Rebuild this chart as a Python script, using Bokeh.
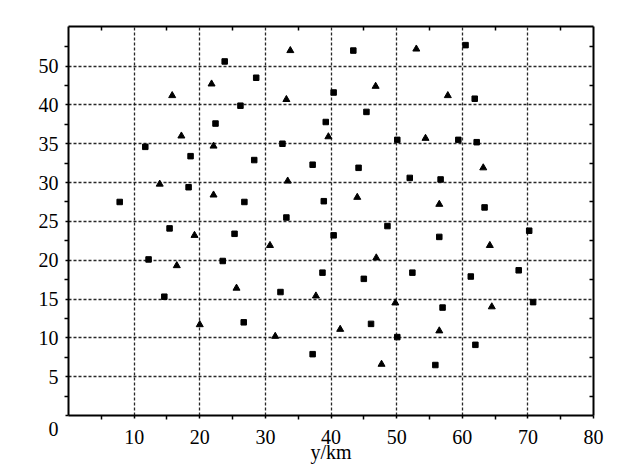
from bokeh.plotting import figure
from bokeh.models import (Range1d, LinearAxis, FixedTicker, ColumnDataSource)
from bokeh.embed import file_html
from bokeh.resources import INLINE

# ---- data ----
square_x = [23.8, 28.6, 26.2, 22.4, 11.7, 18.6, 28.3, 18.3, 7.8, 26.8, 15.4, 25.3, 23.5, 12.2,
            14.6, 26.7, 32.3, 37.2, 32.6, 37.2, 39.2, 40.4, 43.4, 45.4, 44.2, 52.0, 56.7, 38.9,
            63.4, 48.6, 40.4, 56.5, 70.2, 60.5, 61.9, 59.4, 62.2, 50.1, 33.2, 38.7, 45.0, 52.4,
            61.3, 68.6, 70.8, 57.0, 46.1, 50.1, 62.0, 55.9]
square_y = [45.6, 43.5, 39.9, 37.6, 34.6, 33.4, 32.9, 29.4, 27.5, 27.5, 24.1, 23.4, 19.9, 20.1,
            15.3, 12.0, 15.9, 7.9, 35.0, 32.3, 37.8, 41.6, 47.0, 39.1, 31.9, 30.6, 30.4, 27.6,
            26.8, 24.4, 23.2, 23.0, 23.8, 47.7, 40.8, 35.5, 35.2, 35.5, 25.5, 18.4, 17.6, 18.4,
            17.9, 18.7, 14.6, 13.9, 11.8, 10.1, 9.1, 6.5]
tri_x = [15.8, 21.8, 17.2, 22.1, 13.9, 22.1, 19.2, 33.8, 33.2, 33.4, 53.0, 46.8, 57.8, 39.6,
         54.4, 63.2, 44.0, 56.5, 16.5, 30.7, 25.6, 20.0, 31.5, 37.7, 64.2, 46.9, 49.8, 64.5,
         41.4, 56.5, 47.7]
tri_y = [41.2, 42.7, 36.0, 34.7, 29.8, 28.4, 23.2, 47.0, 40.7, 30.2, 47.2, 42.4, 41.2, 35.9,
         35.7, 31.9, 28.1, 27.2, 19.3, 21.9, 16.4, 11.7, 10.2, 15.4, 21.9, 20.3, 14.5, 14.0,
         11.1, 10.9, 6.6]

x_ticks = [10, 20, 30, 40, 50, 60, 70, 80]
y_ticks = [0, 5, 10, 15, 20, 25, 30, 35, 40, 45]
y_tick_labels = ["\u00a0\n0", "5", "10", "15", "20", "25", "30", "35", "40", "50"]
x_label = "y/km"

FONT = "Liberation Serif"
FS = "20px"

p = figure(width=608, height=470, output_backend="svg", toolbar_location=None,
           x_range=Range1d(0, 80), y_range=Range1d(0, 50.1),
           min_border_left=68, min_border_right=15, min_border_top=26, min_border_bottom=55)
p.background_fill_color = "white"
p.outline_line_color = None

# grid
p.xgrid.ticker = FixedTicker(ticks=[10, 20, 30, 40, 50, 60, 70])
p.ygrid.ticker = FixedTicker(ticks=y_ticks[1:])
for g in (p.xgrid, p.ygrid):
    g.grid_line_color = "#111111"
    g.grid_line_width = 1.3
    g.grid_line_dash = "3 2"
    g.grid_line_alpha = 0.9

xminor = [5, 15, 25, 35, 45, 55, 65, 75]
yminor = [2.5, 7.5, 12.5, 17.5, 22.5, 27.5, 32.5, 37.5, 42.5, 47.5]

xa = p.xaxis[0]
xa.ticker = FixedTicker(ticks=x_ticks, minor_ticks=xminor)
ya = p.yaxis[0]
ya.ticker = FixedTicker(ticks=y_ticks, minor_ticks=yminor)
ya.major_label_overrides = {t: l for t, l in zip(y_ticks, y_tick_labels)}

for ax in (xa, ya):
    ax.axis_line_width = 2
    ax.axis_line_color = "black"
    ax.major_tick_in = 0
    ax.major_tick_out = 3
    ax.minor_tick_in = 0
    ax.minor_tick_out = 4
    ax.major_tick_line_width = 1.5
    ax.minor_tick_line_width = 1.5
    ax.major_label_text_font = FONT
    ax.major_label_text_font_size = FS
    ax.major_label_text_color = "black"
xa.major_label_standoff = 10
ya.major_label_standoff = 6

xa.axis_label = x_label
xa.axis_label_text_font = FONT
xa.axis_label_text_font_size = FS
xa.axis_label_text_font_style = "normal"
xa.axis_label_text_color = "black"
xa.axis_label_standoff = -6

top = LinearAxis(ticker=FixedTicker(ticks=[], minor_ticks=xminor), axis_line_width=2,
                 major_tick_in=0, major_tick_out=0, minor_tick_in=4, minor_tick_out=0,
                 minor_tick_line_width=1.5)
right = LinearAxis(ticker=FixedTicker(ticks=[], minor_ticks=yminor), axis_line_width=2,
                   major_tick_in=0, major_tick_out=0, minor_tick_in=4, minor_tick_out=0,
                   minor_tick_line_width=1.5)
p.add_layout(top, "above")
p.add_layout(right, "right")

sq = ColumnDataSource(dict(x=square_x, y=square_y))
tr = ColumnDataSource(dict(x=tri_x, y=tri_y))
p.scatter("x", "y", source=sq, marker="square", size=5.5, color="black")
p.scatter("x", "y", source=tr, marker="triangle", size=7, color="black")

open("out.html", "w").write(file_html(p, INLINE))
